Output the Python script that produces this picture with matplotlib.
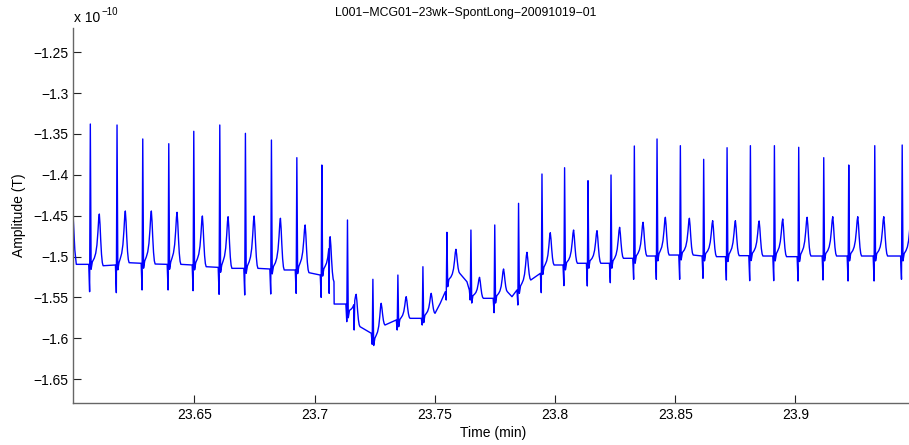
import numpy as np
import matplotlib
matplotlib.use('Agg')
import matplotlib.pyplot as plt

plt.rcParams['font.family'] = ['Liberation Sans', 'DejaVu Sans']

# ---------------- data (time in min, amplitude in 1e-10 T) ----------------
r_time = [23.60672, 23.61783, 23.62853, 23.63935, 23.64975, 23.66057, 23.67123, 23.68205,
          23.69262, 23.70302, 23.71368, 23.72425, 23.73465, 23.74506, 23.75504, 23.76503,
          23.77494, 23.78484, 23.79458, 23.80399, 23.81373, 23.82330, 23.83300, 23.84244,
          23.85214, 23.86184, 23.87157, 23.88127, 23.89126, 23.90137, 23.91178, 23.92218,
          23.93300, 23.94441]
r_peak = [-1.3378, -1.3390, -1.3561, -1.3619, -1.3467, -1.3390, -1.3492, -1.3574,
          -1.3790, -1.3880, -1.4553, -1.5279, -1.5227, -1.5125, -1.4704, -1.4676,
          -1.4614, -1.4349, -1.3990, -1.3913, -1.4072, -1.4002, -1.3647, -1.3561,
          -1.3643, -1.3810, -1.3668, -1.3643, -1.3643, -1.3663, -1.3790, -1.3880,
          -1.3643, -1.3635]
q_trough = [-1.5431, -1.5443, -1.5410, -1.5410, -1.5419, -1.5463, -1.5471, -1.5459,
            -1.5451, -1.5500, -1.5798, -1.6075, -1.5900, -1.5839, -1.5533, -1.5533,
            -1.5688, -1.5594, -1.5443, -1.5357, -1.5361, -1.5321, -1.5279, -1.5279,
            -1.5279, -1.5267, -1.5288, -1.5296, -1.5296, -1.5300, -1.5288, -1.5300,
            -1.5300, -1.5279]
t_time = [23.61046, 23.62128, 23.63210, 23.64280, 23.65333, 23.66403, 23.67485, 23.68579,
          23.69607, 23.70648, 23.71730, 23.72770, 23.73811, 23.74851, 23.75879, 23.76861,
          23.77860, 23.78834, 23.79804, 23.80773, 23.81747, 23.82688, 23.83662, 23.84590,
          23.85589, 23.86558, 23.87503, 23.88490, 23.89472, 23.90487, 23.91553, 23.92593,
          23.93675, 23.94807]
t_peak = [-1.4480, -1.4443, -1.4443, -1.4459, -1.4504, -1.4513, -1.4504, -1.4532,
          -1.4614, -1.4758, -1.5463, -1.5573, -1.5492, -1.5451, -1.4912, -1.5255,
          -1.5153, -1.4949, -1.4709, -1.4676, -1.4684, -1.4643, -1.4581, -1.4520,
          -1.4532, -1.4562, -1.4562, -1.4565, -1.4541, -1.4520, -1.4513, -1.4513,
          -1.4513, -1.4513]
base_pre = [-1.5096, -1.5104, -1.5083, -1.5096, -1.5104, -1.5133, -1.5145, -1.5153,
            -1.5165, -1.5227, -1.5582, -1.5940, -1.5777, -1.5757, -1.5431, -1.5410,
            -1.5512, -1.5410, -1.5206, -1.5104, -1.5083, -1.5083, -1.5022, -1.4994,
            -1.4982, -1.4994, -1.5002, -1.4990, -1.4994, -1.5002, -1.4994, -1.4994,
            -1.4994, -1.4994]
st_level = [-1.5066, -1.5074, -1.5053, -1.5066, -1.5074, -1.5103, -1.5115, -1.5123,
            -1.5120, -1.5150, -1.5660, -1.6000, -1.5770, -1.5720, -1.5280, -1.5480,
            -1.5480, -1.5360, -1.5130, -1.5074, -1.5053, -1.5053, -1.4992, -1.4964,
            -1.4952, -1.4964, -1.4972, -1.4960, -1.4964, -1.4972, -1.4964, -1.4964,
            -1.4964, -1.4964]
base_post = [-1.5113, -1.5076, -1.5092, -1.5096, -1.5125, -1.5145, -1.5145, -1.5165,
             -1.5198, -1.5309, -1.5859, -1.5839, -1.5757, -1.5696, -1.5206, -1.5512,
             -1.5431, -1.5288, -1.5104, -1.5083, -1.5083, -1.5022, -1.4994, -1.4982,
             -1.4982, -1.5002, -1.4990, -1.4994, -1.5002, -1.4994, -1.4994, -1.4994,
             -1.4994, -1.4994]
drift_time = [23.59900, 23.59964, 23.60027, 23.60089,
              23.70606, 23.70814, 23.71646, 23.75226, 23.76337, 23.78210]
drift_val = [-1.4400, -1.4550, -1.4920, -1.5096,
             -1.5451, -1.5582, -1.5900, -1.5573, -1.5309, -1.5492]

x_ticks = [23.65, 23.7, 23.75, 23.8, 23.85, 23.9]
x_tick_labels = ['23.65', '23.7', '23.75', '23.8', '23.85', '23.9']
y_ticks = [-1.65, -1.6, -1.55, -1.5, -1.45, -1.4, -1.35, -1.3, -1.25]
y_tick_labels = ['\u22121.65', '\u22121.6', '\u22121.55', '\u22121.5', '\u22121.45',
                 '\u22121.4', '\u22121.35', '\u22121.3', '\u22121.25']
title = 'L001\u2212MCG01\u221223wk\u2212SpontLong\u221220091019\u221201'

# ---------------- build trace from beat landmarks ----------------
D = 1.0 / 2402.8   # shape time unit (min)
# relative T-wave shape (offset from T peak, fraction of T height)
rise_off = [-5.0, -3.6, -2.4, -1.4, -0.6]
rise_frac = [0.08, 0.18, 0.35, 0.62, 0.9]
fall_off = [0.7, 1.4, 2.2, 3.0, 3.8]
fall_frac = [0.8, 0.5, 0.22, 0.06, 0.0]

pts = list(zip(drift_time, drift_val))
for i in range(len(r_time)):
    r, bp, st, bq = r_time[i], base_pre[i], st_level[i], base_post[i]
    tt, h = t_time[i], t_peak[i]
    pts += [(r - 1.6 * D, bp), (r - 0.7 * D, q_trough[i]), (r, r_peak[i]),
            (r + 0.8 * D, st - 0.009), (r + 2.0 * D, st)]
    pts += [(tt + o * D, st + f * (h - st)) for o, f in zip(rise_off, rise_frac)]
    pts += [(tt, h)]
    pts += [(tt + o * D, bq + f * (h - bq)) for o, f in zip(fall_off, fall_frac)]
pts.sort()
tx = np.array([p[0] for p in pts])
ty = np.array([p[1] for p in pts])

# ---------------- figure ----------------
W, H = 909, 445
fig = plt.figure(figsize=(W / 100, H / 100), dpi=100)
ax = fig.add_axes([73.3 / W, 1 - 402.7 / H, (909.5 - 73.3) / W, (402.7 - 28.3) / H])
ax.plot(tx, ty, color='#0000ff', lw=1.0)
ax.set_xlim(23.59964, 23.94745)
ax.set_ylim(-1.679, -1.2206)

for s in ['top', 'right']:
    ax.spines[s].set_visible(False)
for s in ['left', 'bottom']:
    ax.spines[s].set_color('#666666')
    ax.spines[s].set_linewidth(1.0)

ax.set_xticks(x_ticks)
ax.set_xticklabels(x_tick_labels)
ax.set_yticks(y_ticks)
ax.set_yticklabels(y_tick_labels)
ax.tick_params(direction='in', length=5.8, width=0.8, color='#222222',
               labelsize=10, labelcolor='black')
ax.tick_params(axis='y', pad=3.6)
ax.tick_params(axis='x', pad=4.0)

ax.set_xlabel('Time (min)', fontsize=10)
ax.xaxis.set_label_coords((493 - 73.3) / (909.5 - 73.3), -(433 - 402.7) / (402.7 - 28.3))
ax.xaxis.label.set_va('center')
ax.set_ylabel('Amplitude (T)', fontsize=10)
ax.yaxis.set_label_coords(-(73.3 - 19.5) / (909.5 - 73.3), 0.5)
ax.yaxis.label.set_va('center')

fig.text(466 / W, 1 - 13 / H, title, ha='center', va='center', fontsize=8.8)
fig.text(74 / W, 1 - 22 / H, 'x 10', ha='left', va='baseline', fontsize=10)
fig.text(101 / W, 1 - 15 / H, '\u221210', ha='left', va='baseline', fontsize=7)

fig.savefig('out.png', dpi=100)
